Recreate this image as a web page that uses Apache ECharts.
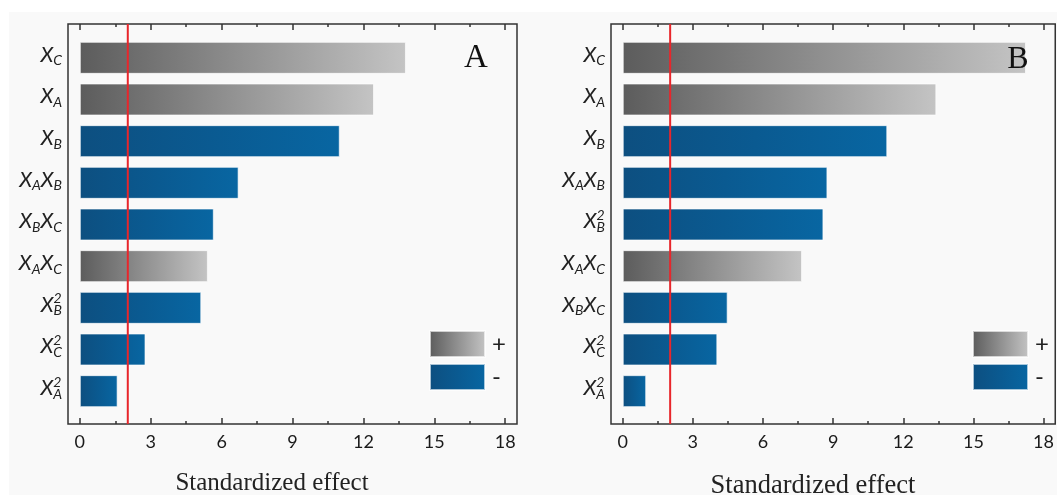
<!DOCTYPE html>
<html><head><meta charset="utf-8">
<script src="https://cdn.jsdelivr.net/npm/echarts@6/dist/echarts.min.js"></script>
<style>
html,body{margin:0;padding:0;background:#fff;}
#wrap{position:relative;width:1057px;height:495px;overflow:hidden;}
#bg{position:absolute;left:9px;top:12px;right:0;bottom:0;background:#f9f9f9;}
#chart{position:absolute;left:0;top:0;width:1057px;height:495px;}
</style></head><body>
<div id="wrap"><div id="bg"></div><div id="chart"></div></div>
<script>
const categoriesA = ['X_C','X_A','X_B','X_A X_B','X_B X_C','X_A X_C','X_B^2','X_C^2','X_A^2'];
const effectsA = [13.8, 12.45, 11.0, 6.72, 5.67, 5.42, 5.14, 2.78, 1.6];
const signsA = ['+','+','-','-','-','+','-','-','-'];
const categoriesB = ['X_C','X_A','X_B','X_A X_B','X_B^2','X_A X_C','X_B X_C','X_C^2','X_A^2'];
const effectsB = [17.18, 13.36, 11.27, 8.72, 8.55, 7.64, 4.47, 4.03, 1.0];
const signsB = ['+','+','-','-','-','+','-','-','-'];
const criticalA = 2.03;
const criticalB = 2.03;
const majorTicks = [0, 3, 6, 9, 12, 15, 18];
const minorTicks = [1.5, 4.5, 7.5, 10.5, 13.5, 16.5];
const axisTitle = 'Standardized effect';
const panelLetters = ['A', 'B'];
const legendNames = ['+', '-'];

const chart = echarts.init(document.getElementById('chart'), null, {renderer: 'canvas'});
const X_MIN = -0.5, X_MAX = 18.5;
const frameColor = '#333';
const labelFont = 'Lato';

function richLabel(s) {
  return s.split(' ').map(t => {
    const m = t.match(/^X_([A-Z])(\^(\d))?$/);
    if (m[3]) return '{x|X}{p|' + m[3] + '}{s|' + m[1] + '}';
    return '{x|X}{s|' + m[1] + '}';
  }).join('');
}
const rich = {
  x: {fontFamily: labelFont, fontStyle: 'italic', fontSize: 21, lineHeight: 26, color: '#222', verticalAlign: 'middle', align: 'left'},
  s: {fontFamily: labelFont, fontStyle: 'italic', fontSize: 14, lineHeight: 13, color: '#222', verticalAlign: 'bottom', align: 'left'},
  p: {fontFamily: labelFont, fontStyle: 'italic', fontSize: 14, lineHeight: 10, color: '#222', verticalAlign: 'top', align: 'left', width: 0}
};

const greyGrad = () => new echarts.graphic.LinearGradient(0, 0, 1, 0, [
  {offset: 0, color: '#5c5c5c'}, {offset: 1, color: '#c4c4c4'}]);
const blueGrad = () => new echarts.graphic.LinearGradient(0, 0, 1, 0, [
  {offset: 0, color: '#0d4f80'}, {offset: 0.5, color: '#0a5a91'}, {offset: 1, color: '#0866a2'}]);

const panels = [
  {left: 68, cats: categoriesA, vals: effectsA, signs: signsA, crit: criticalA},
  {left: 611, cats: categoriesB, vals: effectsB, signs: signsB, crit: criticalB}
];

const grid = [], xAxis = [], yAxis = [], series = [];
panels.forEach((p, k) => {
  const g0 = grid.length;
  grid.push({left: p.left, top: 24, width: 449, height: 400, show: true, borderColor: frameColor, borderWidth: 1.5, backgroundColor: 'transparent'});
  grid.push({left: p.left, top: 37, width: 449, height: 375});
  const xb = xAxis.length;
  const tickAxis = (pos, vals, len, labels) => ({
    type: 'value', gridIndex: g0, position: pos, min: X_MIN, max: X_MAX,
    axisLine: {show: false}, splitLine: {show: false},
    axisTick: {show: true, inside: true, length: len, customValues: vals, lineStyle: {color: frameColor, width: 1.5}},
    axisLabel: labels ? {show: true, customValues: vals, margin: 9, fontSize: 18, fontFamily: labelFont, color: '#1a1a1a'} : {show: false}
  });
  xAxis.push(tickAxis('bottom', majorTicks, 6, true));
  xAxis.push(tickAxis('bottom', minorTicks, 3, false));
  xAxis.push(tickAxis('top', majorTicks, 6, false));
  xAxis.push(tickAxis('top', minorTicks, 3, false));
  xAxis.push({type: 'value', gridIndex: g0 + 1, min: X_MIN, max: X_MAX, show: false});
  const yb = yAxis.length;
  yAxis.push({type: 'value', gridIndex: g0, min: 0, max: 1, show: false});
  yAxis.push({
    type: 'category', gridIndex: g0 + 1, data: p.cats, inverse: true,
    axisLine: {show: false}, axisTick: {show: false}, splitLine: {show: false},
    axisLabel: {interval: 0, margin: 6, padding: [0, 0, 6, 0], formatter: v => richLabel(v), rich: rich}
  });
  legendNames.forEach(name => {
    series.push({
      name: name, type: 'bar', xAxisIndex: xb + 4, yAxisIndex: yb + 1,
      barWidth: 32, barGap: '-100%',
      data: p.vals.map((v, i) => p.signs[i] === name ? v : '-'),
      itemStyle: {color: name === '+' ? greyGrad() : blueGrad(), borderColor: 'rgba(255,255,255,0.65)', borderWidth: 1},
      emphasis: {disabled: true}, silent: true
    });
  });
  series.push({
    name: 'critical', type: 'line', xAxisIndex: xb, yAxisIndex: yb, z: 5,
    symbol: 'none', silent: true,
    data: [[p.crit, 0], [p.crit, 1]],
    lineStyle: {color: '#e8262b', width: 2}
  });
});

const legendCommon = {
  orient: 'vertical', top: 330, padding: 0, itemWidth: 55, itemHeight: 26, itemGap: 5, icon: 'rect',
  data: legendNames, selectedMode: false,
  textStyle: {fontSize: 24, color: '#222', fontFamily: labelFont, padding: [0, 0, 0, 2]}
};

chart.setOption({
  animation: false,
  backgroundColor: 'transparent',
  grid, xAxis, yAxis, series,
  legend: [Object.assign({left: 429}, legendCommon), Object.assign({left: 972}, legendCommon)],
  graphic: [
    {type: 'text', x: 272, y: 483, z: 100, style: {text: axisTitle, font: '25px "Liberation Serif"', fill: '#222', align: 'center', verticalAlign: 'middle'}},
    {type: 'text', x: 813, y: 486, z: 100, style: {text: axisTitle, font: '26.5px "Liberation Serif"', fill: '#222', align: 'center', verticalAlign: 'middle'}},
    {type: 'text', x: 476, y: 58, z: 100, style: {text: panelLetters[0], font: '33px "Liberation Serif"', fill: '#111', align: 'center', verticalAlign: 'middle'}},
    {type: 'text', x: 1018, y: 60, z: 100, style: {text: panelLetters[1], font: '32px "Liberation Serif"', fill: '#111', align: 'center', verticalAlign: 'middle'}}
  ]
});
</script>
</body></html>
